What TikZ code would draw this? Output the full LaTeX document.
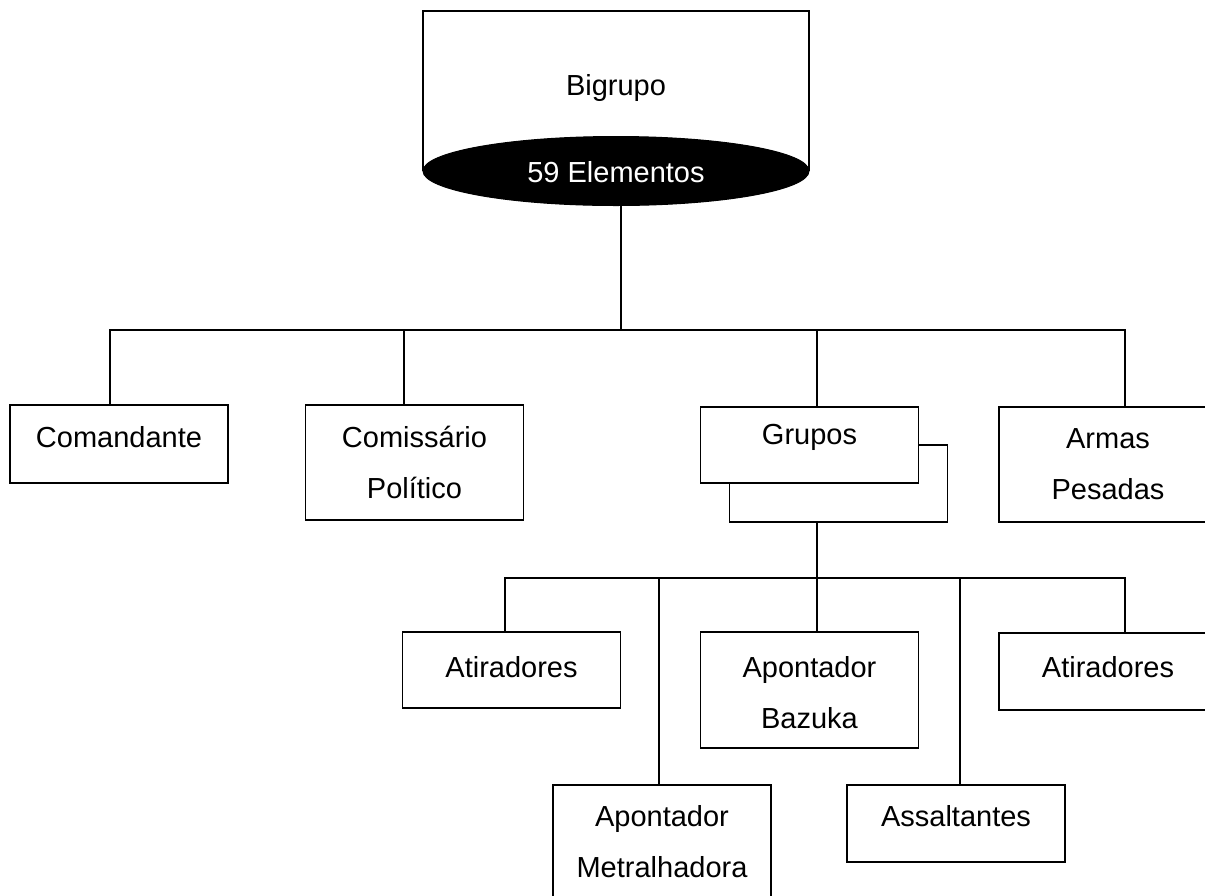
\documentclass[tikz,border=0pt]{standalone}
\usepackage{fontspec}
\setmainfont{Liberation Sans}
\usetikzlibrary{shapes.geometric}
\begin{document}
\begin{tikzpicture}[x=1pt,y=-1pt,
  ln/.style={line width=1.4pt},
  boxnode/.style={draw,line width=1.4pt,fill=white,rectangle,inner sep=0pt,minimum width=218pt},
  txt/.style={font=\fontsize{29}{51}\selectfont,align=center,inner sep=0pt}]
\useasboundingbox (0,0) rectangle (1205,895);
\clip (0,0) rectangle (1205,895);
% top block
\draw[ln] (423,171) -- (423,11) -- (809,11) -- (809,171);
\node[ellipse,fill=black,draw=black,line width=1pt,minimum width=386pt,minimum height=69pt,inner sep=0pt] (ell) at (616,171) {};
\node[txt] (tBig) at (616,88) {Bigrupo};
\node[txt,text=white] (tEl) at (616,172) {59 Elementos};
% first level boxes
\node[boxnode,minimum height=78pt] (com) at (119,444) {};
\node[boxnode,minimum height=115pt] (comi) at (414.5,462.5) {};
\node[boxnode,minimum height=77pt] (grub) at (838.5,483.5) {};
\node[boxnode,minimum height=76pt] (gru) at (809.5,445) {};
\node[boxnode,minimum height=115pt] (arm) at (1108,464.5) {};
\node[txt] (tCom) at (119,437) {Comandante};
\node[txt] (tComi) at (414.5,462.5) {Comissário\\Político};
\node[txt] (tGru) at (809.5,437) {Grupos};
\node[txt] (tArm) at (1108,464.5) {Armas\\Pesadas};
% second level boxes
\node[boxnode,minimum height=76pt] (at1) at (511.5,670) {};
\node[boxnode,minimum height=116pt] (baz) at (809.5,690) {};
\node[boxnode,minimum height=77pt] (at2) at (1108,671.5) {};
\node[boxnode,minimum height=120pt] (met) at (662,845) {};
\node[boxnode,minimum height=77pt] (ass) at (956,823.5) {};
\node[txt] (tAt1) at (511.5,667) {Atiradores};
\node[txt] (tBaz) at (809.5,692.5) {Apontador\\Bazuka};
\node[txt] (tAt2) at (1108,667) {Atiradores};
\node[txt] (tMet) at (662,842) {Apontador\\Metralhadora};
\node[txt] (tAss) at (956,816) {Assaltantes};
% level 1 connectors
\coordinate (bus1) at (621,330);
\coordinate (d1) at (110,405);
\coordinate (d2) at (404,405);
\coordinate (d3) at (817,407);
\coordinate (d4) at (1125,407);
\draw[ln] (ell.south -| bus1) -- (bus1);
\draw[ln] (d1) |- (d4 |- bus1) -- (d4);
\draw[ln] (d2) -- (d2 |- bus1);
\draw[ln] (d3) -- (d3 |- bus1);
% level 2 connectors
\coordinate (bus2) at (817,578);
\coordinate (e1) at (505,632);
\coordinate (e2) at (659,785);
\coordinate (e3) at (817,632);
\coordinate (e4) at (960,785);
\coordinate (e5) at (1125,633);
\draw[ln] (grub.south -| bus2) -- (bus2);
\draw[ln] (e1) |- (e5 |- bus2) -- (e5);
\draw[ln] (e2) -- (e2 |- bus2);
\draw[ln] (e3) -- (e3 |- bus2);
\draw[ln] (e4) -- (e4 |- bus2);
\end{tikzpicture}
\end{document}
